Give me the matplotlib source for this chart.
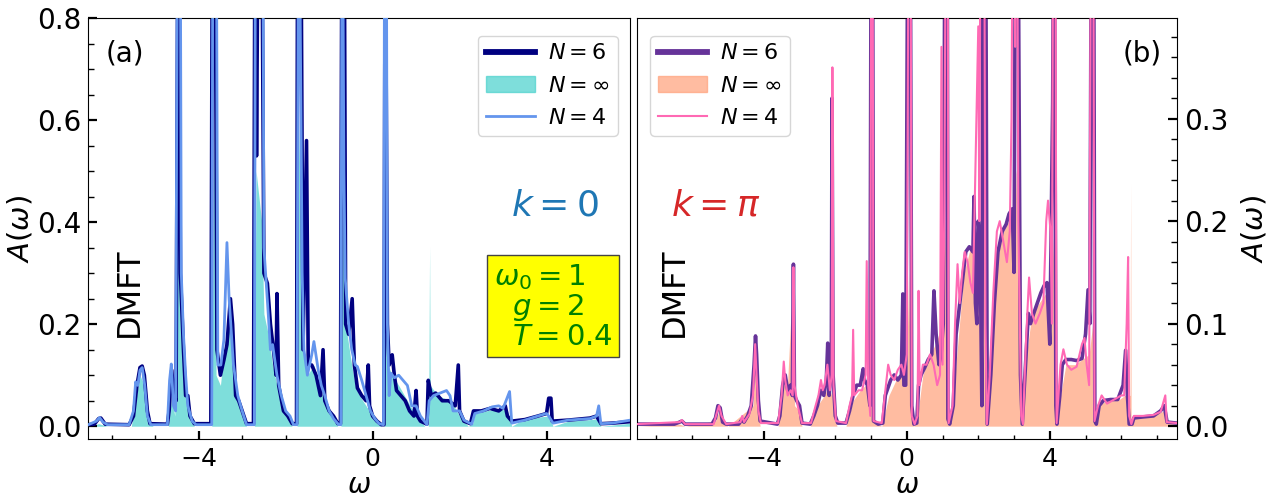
import numpy as np
import matplotlib
matplotlib.use("Agg")
import matplotlib.pyplot as plt
from matplotlib.patches import Patch
from matplotlib.lines import Line2D
from matplotlib.ticker import MultipleLocator

# ---------------- data: panel (a), k = 0 ----------------
a_n6 = [(-6.54, 0.003), (-6.4, 0.004), (-6.3, 0.015), (-6.25, 0.016), (-6.15, 0.004), (-5.6, 0.003),
        (-5.5, 0.02), (-5.42, 0.08), (-5.35, 0.115), (-5.3, 0.118), (-5.25, 0.1), (-5.18, 0.03), (-5.12, 0.005),
        (-4.72, 0.004), (-4.68, 0.03), (-4.62, 0.11), (-4.57, 0.06), (-4.52, 0.05), (-4.47, 1.2), (-4.42, 0.3),
        (-4.35, 0.15), (-4.3, 0.06), (-4.25, 0.06), (-4.2, 0.02), (-4.1, 0.005), (-3.72, 0.005), (-3.68, 1.2),
        (-3.63, 1.2), (-3.58, 0.15), (-3.5, 0.1), (-3.42, 0.13), (-3.35, 0.16), (-3.27, 0.25), (-3.22, 0.2),
        (-3.15, 0.06), (-3.08, 0.05), (-3.0, 0.03), (-2.9, 0.005), (-2.74, 0.005), (-2.7, 1.2), (-2.67, 0.53),
        (-2.62, 1.2), (-2.56, 1.2), (-2.5, 0.3), (-2.42, 0.28), (-2.35, 0.2), (-2.28, 0.15), (-2.22, 0.1),
        (-2.2, 0.26), (-2.16, 0.08), (-2.05, 0.03), (-1.95, 0.02), (-1.85, 0.005), (-1.75, 0.005), (-1.72, 1.2),
        (-1.66, 1.2), (-1.6, 0.15), (-1.52, 0.56), (-1.48, 0.12), (-1.4, 0.12), (-1.3, 0.1), (-1.2, 0.06),
        (-1.14, 0.15), (-1.1, 0.05), (-1.0, 0.03), (-0.9, 0.02), (-0.8, 0.005), (-0.74, 0.005), (-0.7, 1.2),
        (-0.66, 1.2), (-0.62, 0.2), (-0.55, 0.18), (-0.47, 0.25), (-0.42, 0.12), (-0.35, 0.075), (-0.25, 0.06),
        (-0.15, 0.05), (-0.1, 0.12), (-0.07, 0.04), (0.0, 0.02), (0.1, 0.01), (0.2, 0.003), (0.26, 0.003),
        (0.28, 0.71), (0.31, 0.71), (0.34, 0.2), (0.38, 0.12), (0.45, 0.14), (0.5, 0.1), (0.55, 0.07),
        (0.65, 0.06), (0.75, 0.05), (0.85, 0.03), (0.95, 0.02), (1.0, 0.07), (1.03, 0.02), (1.1, 0.01),
        (1.25, 0.004), (1.28, 0.09), (1.35, 0.06), (1.45, 0.065), (1.6, 0.05), (1.75, 0.05), (1.9, 0.04),
        (1.97, 0.12), (2.0, 0.03), (2.1, 0.01), (2.25, 0.005), (2.32, 0.03), (2.5, 0.03), (2.7, 0.035),
        (2.9, 0.03), (3.05, 0.04), (3.1, 0.02), (3.2, 0.01), (3.5, 0.013), (3.8, 0.02), (4.0, 0.025),
        (4.05, 0.055), (4.1, 0.055), (4.13, 0.01), (4.5, 0.012), (5.0, 0.016), (5.15, 0.02), (5.25, 0.005),
        (5.5, 0.006), (5.93, 0.009)]

a_n4 = [(-6.54, 0.003), (-6.35, 0.01), (-6.28, 0.017), (-6.2, 0.008), (-6.1, 0.003), (-5.6, 0.003),
        (-5.5, 0.03), (-5.45, 0.087), (-5.4, 0.08), (-5.35, 0.11), (-5.3, 0.115), (-5.24, 0.08), (-5.18, 0.02),
        (-5.1, 0.003), (-4.72, 0.003), (-4.67, 0.09), (-4.63, 0.122), (-4.58, 0.04), (-4.53, 0.03),
        (-4.48, 1.2), (-4.43, 1.2), (-4.4, 0.3), (-4.35, 0.18), (-4.3, 0.1), (-4.25, 0.04), (-4.15, 0.01),
        (-4.06, 0.003), (-3.7, 0.003), (-3.67, 1.2), (-3.6, 1.2), (-3.56, 0.12), (-3.49, 0.12), (-3.42, 0.17),
        (-3.35, 0.36), (-3.3, 0.25), (-3.2, 0.12), (-3.1, 0.06), (-3.0, 0.03), (-2.9, 0.003), (-2.72, 0.003),
        (-2.69, 1.2), (-2.6, 1.2), (-2.53, 1.2), (-2.5, 0.35), (-2.4, 0.22), (-2.35, 0.15), (-2.3, 0.16),
        (-2.2, 0.1), (-2.1, 0.06), (-2.0, 0.03), (-1.9, 0.02), (-1.82, 0.003), (-1.74, 0.003), (-1.7, 1.2),
        (-1.62, 0.3), (-1.58, 0.15), (-1.5, 0.1), (-1.4, 0.14), (-1.35, 0.166), (-1.25, 0.11), (-1.18, 0.08),
        (-1.1, 0.06), (-1.0, 0.03), (-0.9, 0.015), (-0.78, 0.003), (-0.73, 0.003), (-0.7, 1.2), (-0.66, 0.5),
        (-0.63, 0.29), (-0.55, 0.2), (-0.48, 0.15), (-0.4, 0.12), (-0.35, 0.117), (-0.25, 0.09), (-0.15, 0.06),
        (-0.05, 0.03), (0.05, 0.015), (0.15, 0.005), (0.25, 0.003), (0.28, 1.2), (0.31, 1.2), (0.34, 0.2),
        (0.38, 0.06), (0.42, 0.104), (0.5, 0.095), (0.6, 0.1), (0.7, 0.09), (0.8, 0.08), (0.9, 0.04),
        (1.0, 0.04), (1.1, 0.02), (1.25, 0.003), (1.3, 0.05), (1.4, 0.06), (1.55, 0.065), (1.7, 0.07),
        (1.78, 0.06), (1.85, 0.03), (2.0, 0.03), (2.1, 0.012), (2.28, 0.004), (2.35, 0.025), (2.55, 0.03),
        (2.75, 0.038), (2.9, 0.04), (3.0, 0.035), (3.15, 0.068), (3.2, 0.006), (3.5, 0.012), (3.8, 0.02),
        (4.0, 0.025), (4.05, 0.02), (4.15, 0.006), (4.5, 0.012), (5.0, 0.015), (5.15, 0.02), (5.2, 0.04),
        (5.25, 0.005), (5.5, 0.006), (5.93, 0.012)]

a_ninf = [(-6.54, 0.0), (-6.3, 0.005), (-6.1, 0.0), (-5.55, 0.0), (-5.45, 0.05), (-5.35, 0.1), (-5.25, 0.08),
          (-5.15, 0.01), (-5.05, 0.0), (-4.7, 0.0), (-4.62, 0.06), (-4.55, 0.02), (-4.5, 0.3), (-4.47, 0.5),
          (-4.42, 0.3), (-4.35, 0.1), (-4.25, 0.03), (-4.1, 0.0), (-3.7, 0.0), (-3.65, 0.6), (-3.6, 0.1),
          (-3.5, 0.08), (-3.4, 0.16), (-3.3, 0.22), (-3.2, 0.1), (-3.05, 0.03), (-2.9, 0.0), (-2.72, 0.0),
          (-2.68, 0.5), (-2.55, 0.4), (-2.5, 0.22), (-2.4, 0.18), (-2.3, 0.12), (-2.2, 0.08), (-2.05, 0.03),
          (-1.85, 0.0), (-1.74, 0.0), (-1.7, 0.6), (-1.6, 0.15), (-1.5, 0.1), (-1.35, 0.12), (-1.2, 0.07),
          (-1.0, 0.03), (-0.8, 0.0), (-0.73, 0.0), (-0.7, 0.5), (-0.62, 0.2), (-0.5, 0.13), (-0.4, 0.08),
          (-0.3, 0.06), (-0.15, 0.04), (0.0, 0.02), (0.2, 0.0), (0.26, 0.0), (0.29, 0.5), (0.35, 0.12),
          (0.45, 0.1), (0.6, 0.08), (0.8, 0.05), (1.0, 0.02), (1.2, 0.0), (1.28, 0.0), (1.295, 0.1),
          (1.31, 0.353), (1.325, 0.08), (1.5, 0.06), (1.8, 0.05), (2.0, 0.02), (2.2, 0.0), (2.3, 0.005),
          (2.35, 0.025), (2.6, 0.03), (2.9, 0.035), (3.1, 0.03), (3.2, 0.0), (3.4, 0.01), (3.8, 0.018),
          (4.05, 0.02), (4.15, 0.0), (4.5, 0.01), (5.0, 0.013), (5.2, 0.015), (5.25, 0.0), (5.93, 0.006)]

# ---------------- data: panel (b), k = pi ----------------
b_n6 = [(-7.55, 0.002), (-6.5, 0.002), (-6.35, 0.004), (-6.29, 0.005), (-6.2, 0.002), (-5.45, 0.002),
        (-5.35, 0.008), (-5.28, 0.02), (-5.22, 0.018), (-5.15, 0.004), (-5.05, 0.002), (-4.7, 0.002),
        (-4.62, 0.006), (-4.55, 0.004), (-4.45, 0.01), (-4.35, 0.02), (-4.27, 0.06), (-4.23, 0.088),
        (-4.2, 0.07), (-4.15, 0.025), (-4.1, 0.005), (-3.62, 0.002), (-3.55, 0.01), (-3.47, 0.04),
        (-3.4, 0.05), (-3.33, 0.035), (-3.25, 0.04), (-3.2, 0.03), (-3.17, 0.158), (-3.14, 0.03),
        (-3.08, 0.025), (-3.0, 0.02), (-2.93, 0.003), (-2.7, 0.002), (-2.6, 0.01), (-2.5, 0.02), (-2.4, 0.035),
        (-2.32, 0.03), (-2.25, 0.045), (-2.21, 0.081), (-2.17, 0.03), (-2.11, 0.06), (-2.09, 0.32),
        (-2.06, 0.05), (-2.0, 0.01), (-1.93, 0.003), (-1.7, 0.003), (-1.6, 0.015), (-1.5, 0.03), (-1.4, 0.04),
        (-1.3, 0.04), (-1.22, 0.056), (-1.18, 0.045), (-1.1, 0.04), (-1.03, 0.02), (-0.99, 0.6), (-0.96, 0.6),
        (-0.93, 0.005), (-0.8, 0.002), (-0.67, 0.003), (-0.6, 0.03), (-0.45, 0.045), (-0.35, 0.05),
        (-0.25, 0.045), (-0.15, 0.05), (-0.11, 0.129), (-0.08, 0.04), (-0.03, 0.04), (0.04, 0.6), (0.09, 0.6),
        (0.14, 0.02), (0.2, 0.002), (0.28, 0.003), (0.33, 0.04), (0.4, 0.05), (0.5, 0.057), (0.6, 0.065),
        (0.7, 0.07), (0.76, 0.132), (0.82, 0.09), (0.9, 0.06), (0.96, 0.07), (1.02, 0.1), (1.08, 0.6),
        (1.13, 0.6), (1.15, 0.007), (1.2, 0.002), (1.3, 0.02), (1.38, 0.09), (1.45, 0.11), (1.55, 0.14),
        (1.65, 0.17), (1.75, 0.175), (1.85, 0.17), (1.88, 0.224), (1.92, 0.12), (1.96, 0.1), (2.0, 0.2),
        (2.05, 0.18), (2.1, 0.02), (2.14, 0.6), (2.2, 0.6), (2.25, 0.002), (2.35, 0.05), (2.45, 0.12),
        (2.55, 0.17), (2.67, 0.19), (2.78, 0.197), (2.86, 0.207), (2.95, 0.212), (3.0, 0.15), (3.05, 0.6),
        (3.1, 0.6), (3.18, 0.05), (3.23, 0.002), (3.32, 0.06), (3.4, 0.11), (3.46, 0.1), (3.55, 0.11),
        (3.65, 0.12), (3.75, 0.13), (3.84, 0.137), (3.92, 0.14), (4.0, 0.08), (4.08, 0.315), (4.12, 0.6),
        (4.17, 0.02), (4.2, 0.002), (4.28, 0.03), (4.35, 0.06), (4.45, 0.065), (4.6, 0.065), (4.75, 0.064),
        (4.9, 0.066), (5.0, 0.09), (5.07, 0.133), (5.12, 0.1), (5.17, 0.6), (5.22, 0.6), (5.26, 0.005),
        (5.3, 0.002), (5.38, 0.02), (5.5, 0.025), (5.7, 0.026), (5.9, 0.026), (6.05, 0.04), (6.12, 0.074),
        (6.17, 0.03), (6.22, 0.002), (6.3, 0.002), (6.35, 0.008), (6.6, 0.009), (6.9, 0.01), (7.1, 0.015),
        (7.2, 0.02), (7.28, 0.004), (7.55, 0.003)]

b_n4 = [(-7.55, 0.002), (-6.35, 0.004), (-6.29, 0.006), (-6.2, 0.002), (-5.4, 0.002), (-5.32, 0.012),
        (-5.25, 0.02), (-5.18, 0.01), (-5.05, 0.002), (-4.65, 0.004), (-4.6, 0.01), (-4.55, 0.004),
        (-4.4, 0.012), (-4.3, 0.03), (-4.24, 0.08), (-4.2, 0.05), (-4.15, 0.015), (-4.08, 0.003),
        (-3.6, 0.003), (-3.5, 0.03), (-3.44, 0.063), (-3.4, 0.045), (-3.33, 0.03), (-3.25, 0.035),
        (-3.19, 0.03), (-3.17, 0.155), (-3.14, 0.04), (-3.05, 0.02), (-2.93, 0.003), (-2.68, 0.003),
        (-2.55, 0.02), (-2.47, 0.03), (-2.4, 0.045), (-2.35, 0.035), (-2.3, 0.04), (-2.22, 0.06),
        (-2.15, 0.035), (-2.1, 0.05), (-2.08, 0.35), (-2.05, 0.04), (-1.98, 0.005), (-1.7, 0.003),
        (-1.6, 0.02), (-1.53, 0.03), (-1.5, 0.094), (-1.47, 0.03), (-1.35, 0.035), (-1.25, 0.035),
        (-1.15, 0.05), (-1.12, 0.161), (-1.08, 0.04), (-1.02, 0.01), (-0.99, 0.6), (-0.96, 0.6),
        (-0.93, 0.005), (-0.7, 0.003), (-0.6, 0.035), (-0.52, 0.06), (-0.45, 0.05), (-0.35, 0.045),
        (-0.25, 0.055), (-0.15, 0.06), (-0.08, 0.05), (0.0, 0.07), (0.06, 0.6), (0.1, 0.6), (0.14, 0.01),
        (0.22, 0.002), (0.3, 0.01), (0.33, 0.132), (0.36, 0.04), (0.45, 0.06), (0.55, 0.06), (0.65, 0.07),
        (0.75, 0.06), (0.85, 0.04), (0.93, 0.05), (0.97, 0.37), (1.0, 0.06), (1.05, 0.2), (1.1, 0.6),
        (1.14, 0.6), (1.17, 0.003), (1.28, 0.02), (1.35, 0.1), (1.42, 0.158), (1.48, 0.12), (1.55, 0.15),
        (1.62, 0.17), (1.7, 0.16), (1.78, 0.14), (1.85, 0.13), (1.95, 0.3), (2.0, 0.39), (2.03, 0.2),
        (2.06, 0.5), (2.12, 0.6), (2.16, 0.6), (2.2, 0.1), (2.24, 0.002), (2.32, 0.05), (2.42, 0.13),
        (2.52, 0.19), (2.6, 0.2), (2.7, 0.18), (2.8, 0.16), (2.88, 0.19), (2.93, 0.3), (2.97, 0.6),
        (3.03, 0.37), (3.08, 0.6), (3.12, 0.2), (3.2, 0.01), (3.25, 0.002), (3.33, 0.08), (3.42, 0.145),
        (3.5, 0.11), (3.6, 0.1), (3.72, 0.11), (3.82, 0.12), (3.9, 0.2), (3.95, 0.22), (4.02, 0.19),
        (4.06, 0.1), (4.1, 0.6), (4.15, 0.6), (4.19, 0.003), (4.3, 0.06), (4.38, 0.075), (4.48, 0.06),
        (4.6, 0.055), (4.75, 0.058), (4.9, 0.08), (4.97, 0.086), (5.03, 0.06), (5.1, 0.04), (5.16, 0.6),
        (5.21, 0.6), (5.25, 0.005), (5.35, 0.02), (5.45, 0.03), (5.6, 0.022), (5.75, 0.025), (5.9, 0.028),
        (6.0, 0.03), (6.08, 0.03), (6.15, 0.1), (6.19, 0.165), (6.22, 0.01), (6.28, 0.002), (6.35, 0.01),
        (6.6, 0.01), (6.9, 0.011), (7.1, 0.014), (7.23, 0.03), (7.27, 0.004), (7.55, 0.003)]

b_ninf = [(-7.55, 0.0), (-6.35, 0.002), (-6.2, 0.0), (-5.35, 0.005), (-5.25, 0.015), (-5.15, 0.004),
          (-5.0, 0.0), (-4.3, 0.02), (-4.24, 0.07), (-4.18, 0.02), (-4.1, 0.0), (-3.6, 0.0), (-3.5, 0.02),
          (-3.44, 0.05), (-3.35, 0.03), (-3.17, 0.16), (-3.14, 0.02), (-3.0, 0.015), (-2.93, 0.0), (-2.7, 0.0),
          (-2.5, 0.02), (-2.3, 0.03), (-2.2, 0.04), (-2.1, 0.03), (-2.09, 0.2), (-2.05, 0.01), (-1.95, 0.0),
          (-1.7, 0.0), (-1.5, 0.025), (-1.3, 0.035), (-1.15, 0.04), (-1.05, 0.03), (-1.0, 0.2), (-0.95, 0.005),
          (-0.7, 0.0), (-0.5, 0.03), (-0.3, 0.045), (-0.1, 0.05), (0.0, 0.06), (0.05, 0.15), (0.12, 0.01),
          (0.2, 0.0), (0.3, 0.01), (0.45, 0.05), (0.6, 0.065), (0.8, 0.08), (1.0, 0.1), (1.08, 0.2),
          (1.15, 0.01), (1.2, 0.0), (1.3, 0.03), (1.45, 0.09), (1.6, 0.15), (1.75, 0.17), (1.9, 0.18),
          (2.05, 0.2), (2.15, 0.22), (2.2, 0.05), (2.25, 0.0), (2.35, 0.05), (2.5, 0.16), (2.7, 0.19),
          (2.85, 0.2), (2.95, 0.21), (3.05, 0.25), (3.15, 0.1), (3.23, 0.0), (3.35, 0.07), (3.5, 0.11),
          (3.7, 0.12), (3.9, 0.13), (4.05, 0.14), (4.12, 0.2), (4.18, 0.01), (4.2, 0.0), (4.3, 0.03),
          (4.45, 0.06), (4.7, 0.06), (4.9, 0.065), (5.1, 0.07), (5.2, 0.1), (5.26, 0.0), (5.35, 0.02),
          (5.6, 0.025), (5.9, 0.025), (6.1, 0.03), (6.2, 0.03), (6.245, 0.03), (6.26, 0.237), (6.275, 0.002),
          (6.35, 0.008), (6.8, 0.009), (7.2, 0.015), (7.28, 0.003), (7.55, 0.002)]

labels = [r"$N=6$", r"$N=\infty$", r"$N=4$"]
xticks = [-4, 0, 4]
params_text = "$\\omega_0=1$\n  $g=2$\n  $T=0.4$"

plt.rcParams['font.family'] = ['DejaVu Sans']
plt.rcParams['mathtext.fontset'] = 'dejavusans'

fig = plt.figure(figsize=(12.66, 4.98), dpi=100)
axA = fig.add_axes([0.0697, 0.1185, 0.4283, 0.8451])
axB = fig.add_axes([0.5030, 0.1185, 0.4265, 0.8451])


def arr(p):
    a = np.array(p)
    return a[:, 0], a[:, 1]


def style(ax, right=False, ymaj=0.2, ymin=0.05):
    ax.xaxis.set_major_locator(MultipleLocator(4))
    ax.xaxis.set_minor_locator(MultipleLocator(1))
    ax.yaxis.set_major_locator(MultipleLocator(ymaj))
    ax.yaxis.set_minor_locator(MultipleLocator(ymin))
    ax.tick_params(axis='x', which='major', direction='in', length=6, width=1.6, labelsize=18, pad=6)
    ax.tick_params(axis='x', which='minor', direction='in', length=3, width=1)
    ax.tick_params(axis='y', which='major', direction='in', length=6.5, width=1.6, labelsize=20, pad=5,
                   left=not right, right=right, labelleft=not right, labelright=right)
    ax.tick_params(axis='y', which='minor', direction='in', length=4, width=1,
                   left=not right, right=right)
    ax.set_xlabel(r"$\omega$", fontsize=20, labelpad=0)


# ---- panel (a)
w, a = arr(a_ninf)
axA.fill_between(w, 0, a, color='mediumturquoise', alpha=0.7, lw=0, zorder=1)
w, a = arr(a_n6)
axA.plot(w, a, color='navy', lw=2.6, zorder=2)
w, a = arr(a_n4)
axA.plot(w, a, color='cornflowerblue', lw=2.0, zorder=3)
axA.set_xlim(-6.54, 5.93)
axA.set_ylim(-0.025, 0.8)
style(axA)
axA.set_xticks(xticks)
axA.set_ylabel(r"$A(\omega)$", fontsize=21, labelpad=2)
hA = [Line2D([], [], color='navy', lw=4.2), Patch(color='mediumturquoise', alpha=0.7),
      Line2D([], [], color='cornflowerblue', lw=2)]
axA.legend(hA, labels, loc='upper right', fontsize=16, handlelength=2.2, handletextpad=0.6,
           borderpad=0.35, labelspacing=0.55, bbox_to_anchor=(0.997, 0.985))
axA.text(0.032, 0.915, "(a)", transform=axA.transAxes, fontsize=20, va='center', ha='left')
axA.text(0.86, 0.555, r"$k=0$", transform=axA.transAxes, fontsize=26, color='#1f77b4',
         ha='center', va='center')
axA.text(0.075, 0.349, "DMFT", transform=axA.transAxes, fontsize=23, rotation=90,
         ha='center', va='center')
axA.text(0.967, 0.315, params_text, transform=axA.transAxes, fontsize=21,
         color='green', ha='right', va='center', multialignment='left', linespacing=1.0,
         bbox=dict(boxstyle='square,pad=0.22', facecolor='yellow', edgecolor='#444444', lw=1))

# ---- panel (b)
w, a = arr(b_ninf)
axB.fill_between(w, 0, a, color='lightsalmon', alpha=0.7, lw=0, zorder=1)
w, a = arr(b_n6)
axB.plot(w, a, color='rebeccapurple', lw=2.6, zorder=2)
w, a = arr(b_n4)
axB.plot(w, a, color='hotpink', lw=1.5, zorder=3)
axB.set_xlim(-7.55, 7.55)
axB.set_ylim(-0.0125, 0.398)
style(axB, right=True, ymaj=0.1, ymin=0.02)
axB.set_xticks(xticks)
axB.yaxis.set_label_position('right')
axB.set_ylabel(r"$A(\omega)$", fontsize=21, labelpad=8)
hB = [Line2D([], [], color='rebeccapurple', lw=4.2), Patch(color='lightsalmon', alpha=0.7),
      Line2D([], [], color='hotpink', lw=1.5)]
axB.legend(hB, labels, loc='upper left', fontsize=16, handlelength=2.2, handletextpad=0.6,
           borderpad=0.35, labelspacing=0.55, bbox_to_anchor=(0.004, 0.985))
axB.text(0.9, 0.915, "(b)", transform=axB.transAxes, fontsize=20, va='center', ha='left')
axB.text(0.146, 0.555, r"$k=\pi$", transform=axB.transAxes, fontsize=26, color='#d62728',
         ha='center', va='center')
axB.text(0.07, 0.349, "DMFT", transform=axB.transAxes, fontsize=23, rotation=90,
         ha='center', va='center')

fig.savefig("out.png", dpi=100)
